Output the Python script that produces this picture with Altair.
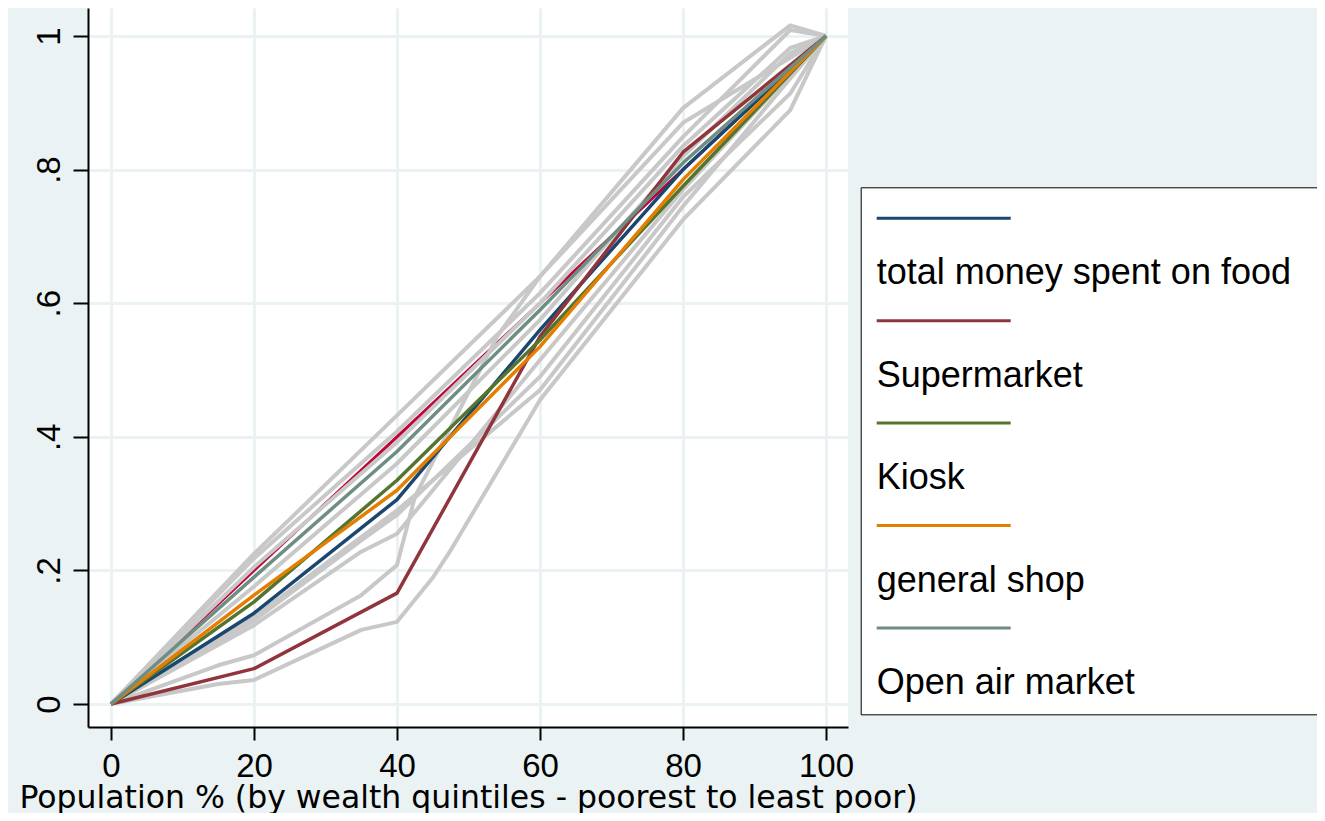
import altair as alt
import pandas as pd

# ---------------- values ----------------
X = [0, 20, 40, 60, 80, 100]
EQUALITY = [0.0, 0.2, 0.4, 0.6, 0.8, 1.0]
TOTAL_FOOD = [0.0, 0.136, 0.306, 0.560, 0.800, 1.0]
SUPERMARKET = [0.0, 0.053, 0.166, 0.550, 0.826, 1.0]
KIOSK = [0.0, 0.153, 0.335, 0.545, 0.775, 1.0]
GENERAL_SHOP = [0.0, 0.163, 0.320, 0.535, 0.785, 1.0]
OPEN_AIR = [0.0, 0.190, 0.378, 0.590, 0.810, 1.0]

SERIES = ["total money spent on food", "Supermarket", "Kiosk",
          "general shop", "Open air market"]
COLORS = ["#1A476F", "#90353B", "#55752F", "#E37E00", "#6E8E84"]

# grey confidence curves
G1_X = [0, 20, 40, 60, 80, 95, 100]
G1_Y = [0, 0.225, 0.432, 0.640, 0.892, 1.016, 1.0]
G2_X = [0, 20, 40, 60, 80, 95, 100]
G2_Y = [0, 0.218, 0.408, 0.615, 0.849, 1.009, 1.0]
G3_X = [0, 20, 40, 60, 80, 95, 100]
G3_Y = [0, 0.205, 0.392, 0.600, 0.835, 0.982, 1.0]
G4_X = [0, 20, 40, 60, 80, 95, 100]
G4_Y = [0, 0.176, 0.360, 0.575, 0.820, 0.974, 1.0]
G5_X = [0, 20, 35, 40, 60, 80, 100]
G5_Y = [0, 0.118, 0.228, 0.255, 0.515, 0.770, 1.0]
G6_X = [0, 20, 35, 40, 60, 80, 95, 100]
G6_Y = [0, 0.125, 0.245, 0.283, 0.490, 0.759, 0.914, 1.0]
G7_X = [0, 20, 40, 60, 80, 100]
G7_Y = [0, 0.130, 0.290, 0.470, 0.745, 1.0]
G8_X = [0, 15, 20, 35, 40, 42.5, 54, 60, 80, 100]
G8_Y = [0, 0.058, 0.073, 0.163, 0.208, 0.310, 0.550, 0.640, 0.870, 1.0]
G9_X = [0, 15, 20, 35, 40, 45, 47.5, 60, 80, 95, 100]
G9_Y = [0, 0.030, 0.036, 0.111, 0.123, 0.189, 0.230, 0.455, 0.725, 0.889, 1.0]

X_TICKS = [0, 20, 40, 60, 80, 100]
Y_TICKS = [0, 0.2, 0.4, 0.6, 0.8, 1.0]
X_TITLE = "Population % (by wealth quintiles - poorest to least poor)"

# ---------------- tables ----------------
eq_df = pd.DataFrame({"x": X, "y": EQUALITY})

series_vals = [TOTAL_FOOD, SUPERMARKET, KIOSK, GENERAL_SHOP, OPEN_AIR]
rows = []
for name, vals in zip(SERIES, series_vals):
    for xv, yv in zip(X, vals):
        rows.append({"series": name, "x": xv, "y": yv})
main_df = pd.DataFrame(rows)

greys = [(G1_X, G1_Y), (G2_X, G2_Y), (G3_X, G3_Y), (G4_X, G4_Y), (G5_X, G5_Y),
         (G6_X, G6_Y), (G7_X, G7_Y), (G8_X, G8_Y), (G9_X, G9_Y)]
grows = []
for i, (gx, gy) in enumerate(greys):
    for xv, yv in zip(gx, gy):
        grows.append({"curve": f"g{i}", "x": xv, "y": yv})
grey_df = pd.DataFrame(grows)

FONT = "Liberation Sans"
TITLE_FONT = "DejaVu Sans"
FS_TICK = 33
FS_TITLE = 31.5
FS_LEGEND = 36
BG = "#EAF2F3"

# legend key: horizontal line (label is stacked underneath it)
KEY_PATH = "M35.6,0M-6.7,0H6.7"

x_enc = alt.X("x:Q",
              scale=alt.Scale(domain=[-3.217, 103.077], nice=False, zero=False),
              axis=alt.Axis(values=X_TICKS, title=X_TITLE, format="d",
                            labelFont=FONT, labelFontSize=FS_TICK, labelColor="black",
                            titleFont=TITLE_FONT, titleFontSize=FS_TITLE,
                            titleColor="black",
                            titleFontWeight="normal", titleBaseline="alphabetic",
                            titleY=80,
                            domainColor="black", domainWidth=2,
                            tickColor="black", tickWidth=2, tickSize=13,
                            labelPadding=10, labelFlush=False,
                            grid=True, gridColor=BG, gridWidth=3))
y_enc = alt.Y("y:Q",
              scale=alt.Scale(domain=[-0.0344, 1.0419], nice=False, zero=False),
              axis=alt.Axis(values=Y_TICKS, title=None,
                            labelExpr="datum.value == 0 ? '0' : (datum.value == 1 ? '1' : '.' + round(datum.value * 10))",
                            labelFont=FONT, labelFontSize=FS_TICK, labelColor="black",
                            labelAngle=270, labelAlign="center", labelBaseline="bottom",
                            labelPadding=7, labelFlush=False,
                            domainColor="black", domainWidth=2,
                            tickColor="black", tickWidth=2, tickSize=15,
                            grid=True, gridColor=BG, gridWidth=3))

red = alt.Chart(eq_df).mark_line(color="#C10534", strokeWidth=3.2,
                                 strokeJoin="round").encode(x=x_enc, y=y_enc)

grey = alt.Chart(grey_df).mark_line(color="#C8C8C8", strokeWidth=4,
                                    strokeJoin="round").encode(
    x=x_enc, y=y_enc, detail="curve:N")

colored = alt.Chart(main_df).mark_line(strokeWidth=3.5, strokeJoin="round").encode(
    x=x_enc, y=y_enc,
    color=alt.Color("series:N",
                    scale=alt.Scale(domain=SERIES, range=COLORS),
                    legend=alt.Legend(title=None, orient="none",
                                      legendX=772.7, legendY=179.3,
                                      direction="vertical",
                                      symbolType=KEY_PATH, symbolSize=400,
                                      symbolStrokeWidth=3, symbolOffset=52,
                                      labelFont=FONT, labelFontSize=FS_LEGEND,
                                      labelColor="black", labelLimit=1000,
                                      labelOffset={"expr": "-85"},
                                      labelBaseline="top",
                                      labelExpr="['', datum.label]",
                                      strokeColor="black", fillColor="white",
                                      padding=13, rowPadding=11.4)),
)

chart = alt.layer(red, grey, colored).properties(
    width=760, height=719,
    padding={"left": 80, "top": 0, "right": 469, "bottom": 86},
    autosize=alt.AutoSizeParams(type="none"),
    background=BG,
).configure_view(fill="white", strokeWidth=0)

chart.save("out.html", embed_options={"renderer": "svg", "actions": False})
